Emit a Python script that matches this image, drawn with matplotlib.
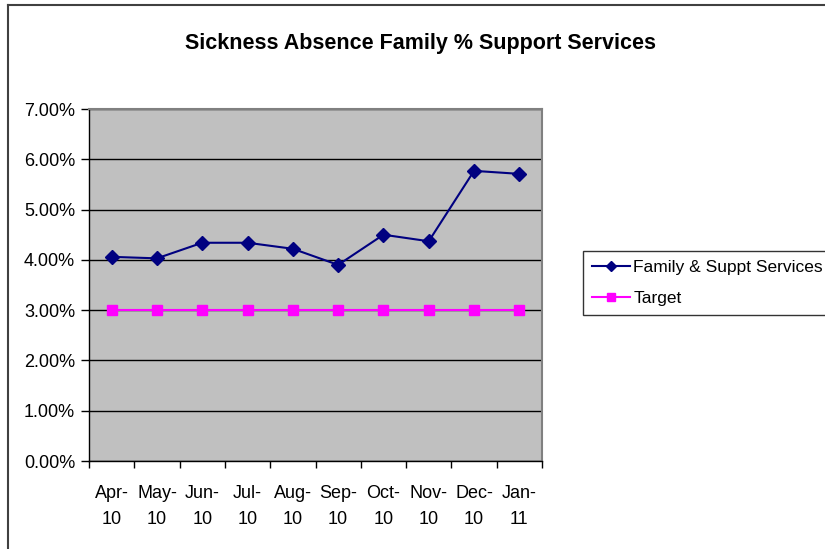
import matplotlib
matplotlib.use("Agg")
import matplotlib.pyplot as plt
from matplotlib.lines import Line2D
import numpy as np

plt.rcParams['font.family'] = ['Liberation Sans', 'DejaVu Sans']

months = ["Apr-\n10", "May-\n10", "Jun-\n10", "Jul-\n10", "Aug-\n10",
          "Sep-\n10", "Oct-\n10", "Nov-\n10", "Dec-\n10", "Jan-\n11"]
family = [4.06, 4.03, 4.34, 4.34, 4.22, 3.90, 4.50, 4.37, 5.77, 5.71]
target = [3.00] * 10
y_ticks = [0, 1, 2, 3, 4, 5, 6, 7]

fig = plt.figure(figsize=(8.25, 5.49), dpi=100)
ax = fig.add_axes([89 / 825, 88 / 549, 453 / 825, 352 / 549])
ax.set_facecolor("#c0c0c0")

x = np.arange(len(months))
ax.plot(x, family, color="#000080", lw=1.5, marker="D", ms=7,
        label="Family & Suppt Services", zorder=3)
ax.plot(x, target, color="#ff00ff", lw=1.5, marker="s", ms=6.5,
        label="Target", zorder=3)

ax.set_xlim(-0.5, 9.5)
ax.set_ylim(0, 7)
ax.set_yticks(y_ticks)
ax.set_yticklabels([f"{v:.2f}%" for v in y_ticks])
ax.yaxis.grid(True, color="black", lw=1)
ax.set_axisbelow(True)

ax.set_xticks(x)
ax.set_xticklabels(months, linespacing=1.75)
ax.set_xticks(np.arange(-0.5, 10, 1), minor=True)
ax.tick_params(axis="x", which="major", length=0, pad=17, labelsize=13)
ax.tick_params(axis="x", which="minor", length=5, width=1, direction="out")
ax.tick_params(axis="y", length=6, width=1, direction="out", pad=4,
               labelsize=13)

for side in ("top", "right"):
    ax.spines[side].set_color("#808080")
    ax.spines[side].set_linewidth(1.5)
for side in ("left", "bottom"):
    ax.spines[side].set_color("black")
    ax.spines[side].set_linewidth(1)

fig.text(421 / 825, 1 - 43 / 549, "Sickness Absence Family % Support Services",
         ha="center", va="center", fontsize=15.5, fontweight="bold")

leg = ax.legend(loc="upper left", bbox_to_anchor=(583 / 825, 1 - 251 / 549),
                bbox_transform=fig.transFigure, fontsize=12.5,
                frameon=True, fancybox=False, borderaxespad=0,
                handlelength=2.2, handletextpad=0.2, borderpad=0.5,
                labelspacing=0.95, markerscale=0.8)
leg.get_frame().set_edgecolor("black")
leg.get_frame().set_linewidth(1)

# outer chart border (left and top edges)
fig.add_artist(Line2D([8 / 825, 8 / 825], [0, 1 - 5 / 549],
                      color="#404040", lw=1.5))
fig.add_artist(Line2D([8 / 825, 1], [1 - 5 / 549, 1 - 5 / 549],
                      color="#404040", lw=1.5))

fig.savefig("out.png", dpi=100)
